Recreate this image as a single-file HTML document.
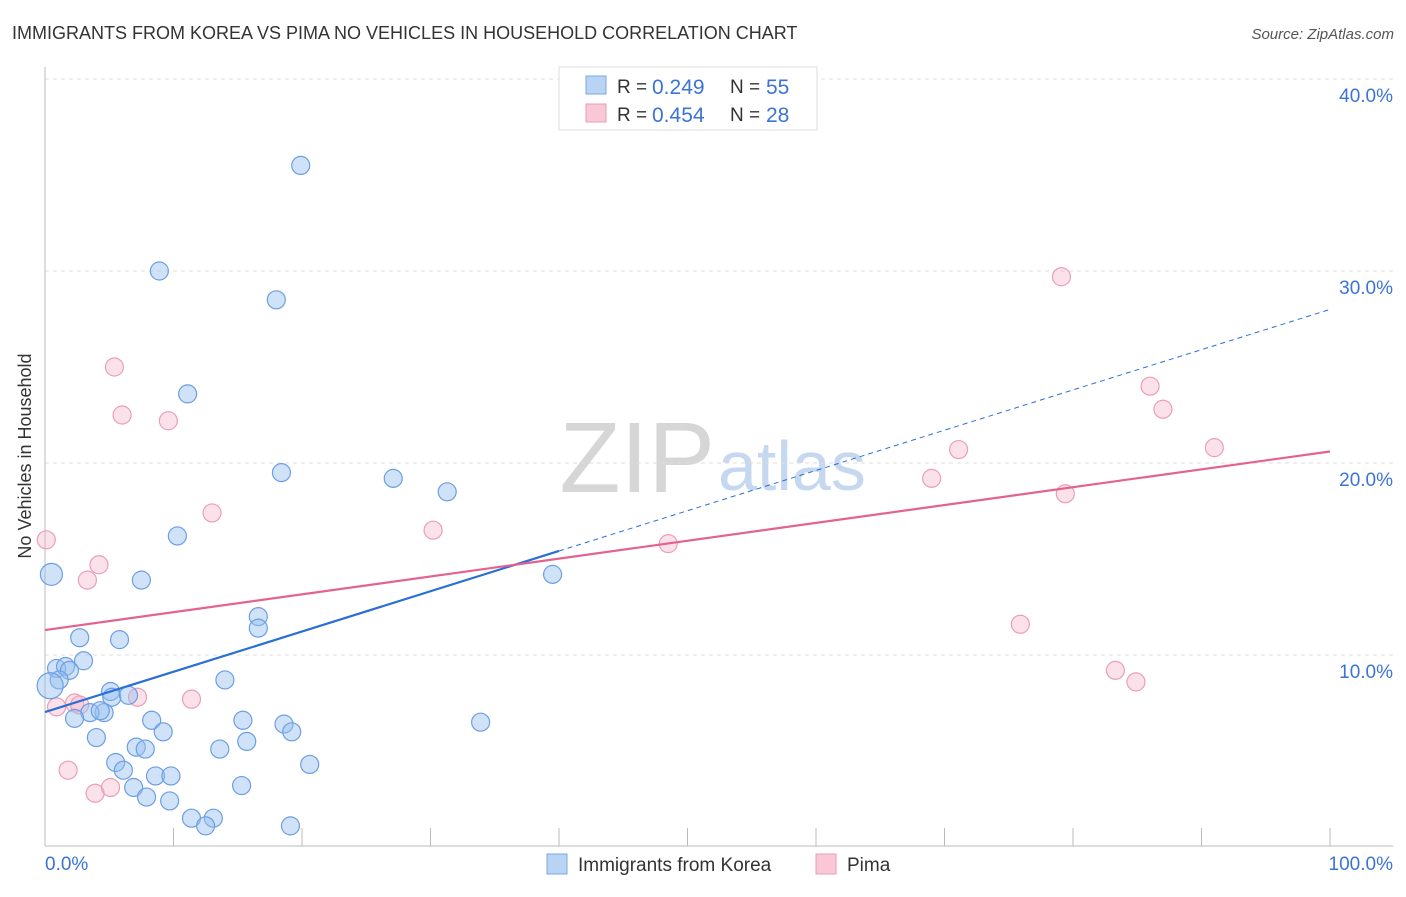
<!DOCTYPE html>
<html><head><meta charset="utf-8"><style>
body{margin:0;background:#fff;font-family:"Liberation Sans",sans-serif;}
svg text{font-family:"Liberation Sans",sans-serif;}
</style></head><body>
<svg id="c" width="1406" height="892" xmlns="http://www.w3.org/2000/svg">
<text x="12" y="39" font-size="18" fill="#333">IMMIGRANTS FROM KOREA VS PIMA NO VEHICLES IN HOUSEHOLD CORRELATION CHART</text>
<text x="1394" y="39" font-size="15" fill="#555" font-style="italic" text-anchor="end">Source: ZipAtlas.com</text>
<text x="31" y="456" font-size="18" fill="#333" text-anchor="middle" transform="rotate(-90 31 456)">No Vehicles in Household</text>
<text x="715" y="492" font-size="100" fill="#d6d6d6" text-anchor="end" font-family="Liberation Serif">ZIP</text>
<text x="718" y="490" font-size="70" fill="#c6d8f0">atlas</text>
<g id="grid"></g><g id="marks"></g><g id="lines"></g>
<g>
<rect x="559" y="67" width="258" height="63" fill="#fff" stroke="#ddd"/>
<rect x="586" y="76" width="20" height="18" fill="#b9d3f5" stroke="#7aa7e3"/>
<rect x="586" y="104" width="20" height="18" fill="#f9c8d6" stroke="#ea9db4"/>
<text x="617" y="93" font-size="19" fill="#333">R =</text>
<text x="652" y="94" font-size="21" fill="#3b74d4">0.249</text>
<text x="730" y="93" font-size="19" fill="#333">N =</text>
<text x="766" y="94" font-size="21" fill="#3b74d4">55</text>
<text x="617" y="121" font-size="19" fill="#333">R =</text>
<text x="652" y="122" font-size="21" fill="#3b74d4">0.454</text>
<text x="730" y="121" font-size="19" fill="#333">N =</text>
<text x="766" y="122" font-size="21" fill="#3b74d4">28</text>
</g>
<g>
<rect x="547" y="854" width="20" height="20" fill="#b9d3f5" stroke="#7aa7e3"/>
<text x="578" y="871" font-size="19" fill="#333">Immigrants from Korea</text>
<rect x="816" y="854" width="20" height="20" fill="#f9c8d6" stroke="#ea9db4"/>
<text x="847" y="871" font-size="19" fill="#333">Pima</text>
</g>
</svg>
<script>
const yTicks=[10,20,30,40];
const xTickLabels=["0.0%","100.0%"];
const koreaX=[19.9,8.9,18.0,11.1,18.4,27.1,31.3,10.3,39.5,7.5,0.5,16.6,16.6,2.7,5.8,3.0,0.9,1.6,1.9,1.1,14.0,5.1,5.2,6.5,4.6,3.5,2.3,4.3,8.3,15.4,18.6,33.9,9.2,19.2,4.0,13.6,7.1,7.8,15.7,20.6,5.5,6.1,8.6,9.8,6.9,15.3,7.9,9.7,11.4,13.1,12.5,19.1,0.4];
const koreaY=[35.5,30.0,28.5,23.6,19.5,19.2,18.5,16.2,14.2,13.9,14.2,12.0,11.4,10.9,10.8,9.7,9.3,9.4,9.2,8.7,8.7,8.1,7.8,7.9,6.998,7.0,6.7,7.1,6.6,6.6,6.4,6.5,6.0,6.0,5.7,5.1,5.2,5.1,5.5,4.3,4.4,4.0,3.7,3.7,3.1,3.2,2.6,2.4,1.5,1.5,1.1,1.1,8.4];
const koreaR=[9,9,9,9,9,9,9,9,9,9,11,9,9,9,9,9,9,9,9,9,9,9,9,9,9,9,9,9,9,9,9,9,9,9,9,9,9,9,9,9,9,9,9,9,9,9,9,9,9,9,9,9,13];
const pimaX=[79.1,5.4,6.0,9.6,86.0,87.0,71.1,91.0,13.0,69.0,79.4,30.2,0.1,48.5,4.2,3.3,75.9,83.3,84.9,7.2,11.4,0.9,2.3,2.7,1.8,3.9,5.1];
const pimaY=[29.7,25.0,22.5,22.2,24.0,22.8,20.7,20.8,17.4,19.2,18.4,16.5,16.0,15.8,14.7,13.9,11.6,9.2,8.6,7.8,7.7,7.3,7.5,7.4,4.0,2.8,3.1];
const trendIntercept=[7.03,11.3];
const trendEnd=[28.0,20.6];
const ns="http://www.w3.org/2000/svg";
const X=v=>45+v*12.85, Y=v=>847-v*19.2;
function mk(t,a,p){const e=document.createElementNS(ns,t);for(const k in a)e.setAttribute(k,a[k]);p.appendChild(e);return e;}
const grid=document.getElementById('grid');
yTicks.forEach(t=>{
 const l=mk('line',{x1:45,x2:1393,y1:Y(t),y2:Y(t),stroke:'#ddd','stroke-dasharray':'4,4'},grid);
 
 
 const tx=mk('text',{x:1393,y:Y(t)+23,'font-size':19,fill:'#3b74d4','text-anchor':'end'},grid);
 tx.textContent=t.toFixed(1)+'%';
 
 
});
const ax=mk('line',{x1:45,x2:45,y1:67,y2:846,stroke:'#bbb'},grid);


const bx=mk('line',{x1:45,x2:1393,y1:846,y2:846,stroke:'#bbb'},grid);


for(let i=1;i<=10;i++){const t=mk('line',{x1:X(i*10),x2:X(i*10),y1:828,y2:846,stroke:'#bbb'},grid);
 
 }
[[0,'start',45],[1,'end',1393]].forEach(([i,a,x])=>{const t=mk('text',{x:x,y:870,'font-size':19,fill:'#3b74d4','text-anchor':a},grid);t.textContent=xTickLabels[i];
 
 });
const marks=document.getElementById('marks');
pimaX.forEach((v,i)=>{const c=mk('circle',{cx:X(v),cy:Y(pimaY[i]),r:9,fill:'rgba(246,180,200,0.4)',stroke:'#eb9fb6','stroke-width':1.2},marks);
 
 });
koreaX.forEach((v,i)=>{const c=mk('circle',{cx:X(v),cy:Y(koreaY[i]),r:koreaR[i],fill:'rgba(150,190,240,0.45)',stroke:'#6b9fe2','stroke-width':1.2},marks);
 
 });
const lines=document.getElementById('lines');
const bAt=x=>trendIntercept[0]+(trendEnd[0]-trendIntercept[0])*x/100;
const l1=mk('line',{x1:X(0),y1:Y(bAt(0)),x2:X(40),y2:Y(bAt(40)),stroke:'#2a6fd6','stroke-width':2.2},lines);


const l2=mk('line',{x1:X(40),y1:Y(bAt(40)),x2:X(100),y2:Y(bAt(100)),stroke:'#2a6fd6','stroke-width':1,'stroke-dasharray':'5,4'},lines);


const l3=mk('line',{x1:X(0),y1:Y(trendIntercept[1]),x2:X(100),y2:Y(trendEnd[1]),stroke:'#e4628e','stroke-width':2.2},lines);


</script>
</body></html>
